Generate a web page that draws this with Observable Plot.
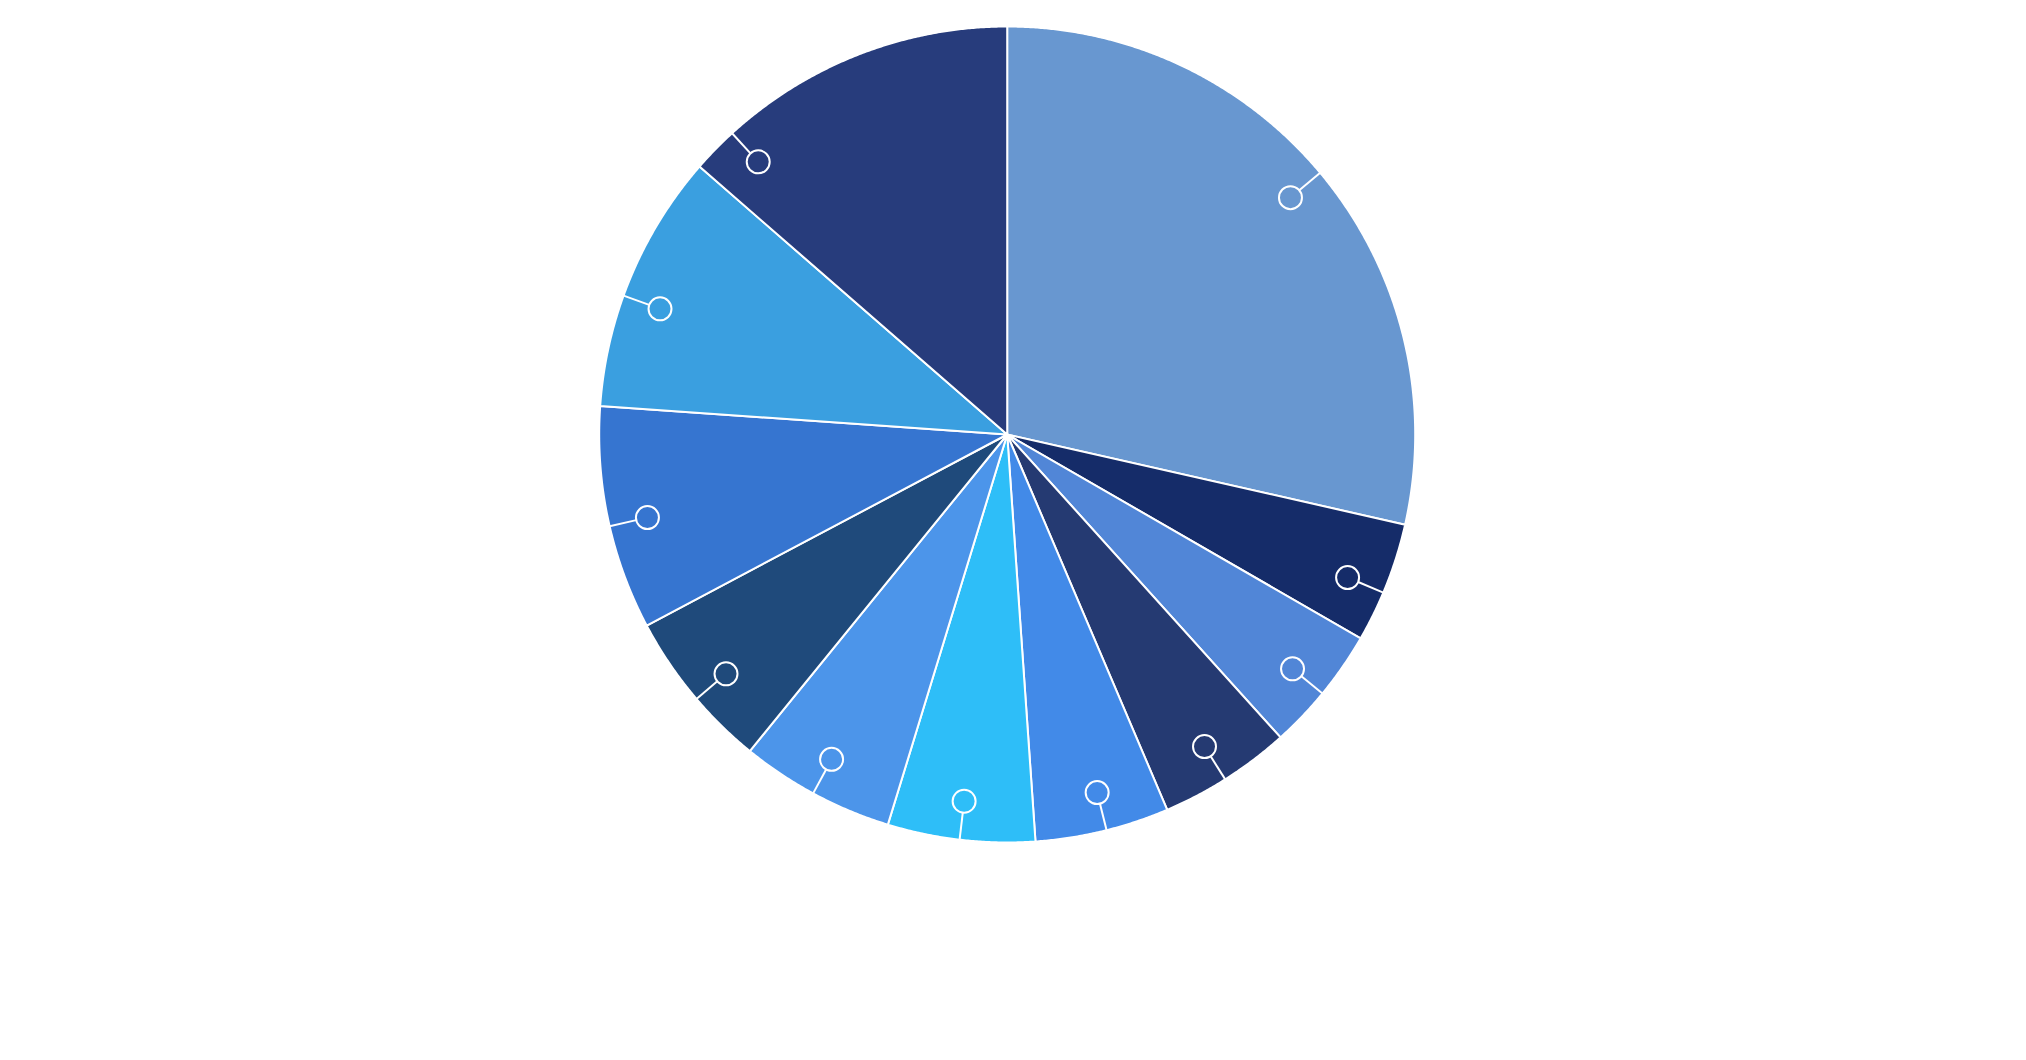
<!DOCTYPE html>
<html>
<head>
<meta charset="utf-8">
<script src="https://cdn.jsdelivr.net/npm/d3@7"></script>
<script src="https://cdn.jsdelivr.net/npm/@observablehq/plot@0.6"></script>
<style>
  html, body { margin: 0; padding: 0; background: #ffffff; overflow: hidden; }
  #chart svg { display: block; }
</style>
</head>
<body>
<div id="chart"></div>
<script>
// ---- data ----
const categories = ["Item 1","Item 2","Item 3","Item 4","Item 5","Item 6","Item 7","Item 8","Item 9","Item 10","Item 11"];
const values     = [28.55, 4.78, 4.99, 5.27, 5.31, 5.83, 6.14, 6.38, 8.87, 10.29, 13.6];
const colors     = ["#6897d0","#152c69","#5186d7","#253a72","#428ae8","#2ebef8","#4c95ea","#1f4a7b","#3675d0","#3a9fe0","#273c7c"];
// angle (degrees, clockwise from 12 o'clock) of each slice's marker, as seen in the picture
const markerAngles = [50.1, 112.8, 129.4, 147.7, 165.9, 186.7, 208.4, 229.6, 257.0, 289.9, 317.6];

// ---- layout ----
const W = 2026, H = 1060;
const cx = 1006.7, cy = 434, R = 408;
const markerR = 11.5;          // px
const markerPos = 0.905;       // fraction of radius

const total = d3.sum(values);
const toAngle = d3.scaleLinear().domain([0, total]).range([0, 2 * Math.PI]);

// slice polygons in unit-circle space
const slicePts = [];
let acc = 0;
categories.forEach((name, i) => {
  const a0 = toAngle(acc), a1 = toAngle(acc + values[i]);
  acc += values[i];
  slicePts.push({name, x: 0, y: 0});
  const n = Math.max(2, Math.ceil((a1 - a0) / (Math.PI / 720)));
  for (let k = 0; k <= n; ++k) {
    const a = a0 + (a1 - a0) * k / n;
    slicePts.push({name, x: Math.sin(a), y: Math.cos(a)});
  }
  slicePts.push({name, x: 0, y: 0});
});

const markers = categories.map((name, i) => {
  const a = markerAngles[i] * Math.PI / 180;
  const r1 = markerPos + markerR / R;
  return {
    name,
    x: markerPos * Math.sin(a), y: markerPos * Math.cos(a),
    x1: r1 * Math.sin(a), y1: r1 * Math.cos(a),
    x2: Math.sin(a), y2: Math.cos(a)
  };
});

const chart = Plot.plot({
  width: W,
  height: H,
  margin: 0,
  style: {background: "#ffffff"},
  x: {type: "linear", domain: [-1, 1], range: [cx - R, cx + R], axis: null},
  y: {type: "linear", domain: [-1, 1], range: [cy + R, cy - R], axis: null},
  color: {domain: categories, range: colors},
  marks: [
    Plot.line(slicePts, {
      x: "x", y: "y", z: "name", fill: "name",
      stroke: "#ffffff", strokeWidth: 2, strokeLinejoin: "round"
    }),
    Plot.link(markers, {
      x1: "x1", y1: "y1", x2: "x2", y2: "y2",
      stroke: "#ffffff", strokeWidth: 2
    }),
    Plot.dot(markers, {
      x: "x", y: "y", r: markerR,
      fill: "none", stroke: "#ffffff", strokeWidth: 2
    })
  ]
});
document.getElementById("chart").appendChild(chart);
</script>
</body>
</html>
